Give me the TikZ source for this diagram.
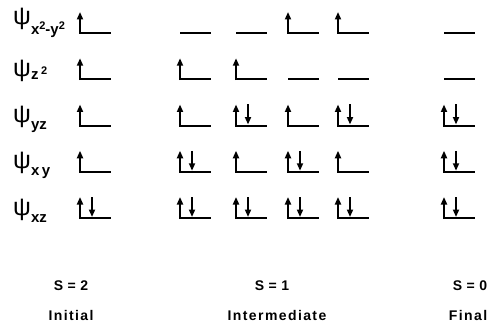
\documentclass[tikz,border=0pt]{standalone}
\usepackage{fontspec}
\setmainfont{Liberation Sans}
\usetikzlibrary{arrows.meta}

\newcommand\psil[2]{{\fontsize{25}{25}\selectfont\mdseries ψ}\raisebox{-#1}{\fontsize{15}{15}\selectfont #2}}
\newcommand\sq{\raisebox{5pt}{\fontsize{11}{11}\selectfont 2}}

\tikzset{
  level/.style={line width=2pt},
  spin/.style={line width=1.8pt, -{Triangle[length=7.5pt,width=6pt]}},
  orb/.style={anchor=base west, inner sep=0pt, font=\bfseries},
  spinst/.style={anchor=base, inner sep=0pt,
    font=\fontsize{14}{16}\selectfont\bfseries\addfontfeature{LetterSpace=4}},
  caption/.style={anchor=base, inner sep=0pt,
    font=\fontsize{14}{16}\selectfont\bfseries\addfontfeature{LetterSpace=10}},
}

\begin{document}
\begin{tikzpicture}[x=1pt,y=1pt]

  \newcommand\Y{46.25}
  \newcommand\lvl[2]{\draw[level] (#1,#2) -- ++(31,0);}
  \newcommand\up[2]{\lvl{#1}{#2}
    \draw[spin] (#1,#2-1) -- ++(0,22);}
  \newcommand\pair[2]{\up{#1}{#2}
    \draw[spin] (#1+12,#2+21) -- (#1+12,#2+1);}

  \useasboundingbox (0,0) rectangle (494,327);

  %% orbital labels
  \node[orb] (xxyy) at (13,294+8) {\psil{10pt}{x\sq-y\sq}};
  \node[orb] (zz) at (13,294-\Y+3) {\psil{3pt}{z\,\sq}};
  \node[orb] (yz) at (13,294-2*\Y+3) {\psil{7pt}{yz}};
  \node[orb] (xy) at (13,294-3*\Y+3) {\psil{7pt}{x\,y}};
  \node[orb] (xz) at (13,294-4*\Y+3) {\psil{7pt}{xz}};

  %% initial
  \up{80}{294}
  \up{80}{294-\Y}
  \up{80}{294-2*\Y}
  \up{80}{294-3*\Y}
  \pair{80}{294-4*\Y}

  %% intermediate
  \lvl{180}{294}
  \up{180}{294-\Y}
  \up{180}{294-2*\Y}
  \pair{180}{294-3*\Y}
  \pair{180}{294-4*\Y}

  \lvl{236}{294}
  \up{236}{294-\Y}
  \pair{236}{294-2*\Y}
  \up{236}{294-3*\Y}
  \pair{236}{294-4*\Y}

  \up{288}{294}
  \lvl{288}{294-\Y}
  \up{288}{294-2*\Y}
  \pair{288}{294-3*\Y}
  \pair{288}{294-4*\Y}

  \up{338}{294}
  \lvl{338}{294-\Y}
  \pair{338}{294-2*\Y}
  \up{338}{294-3*\Y}
  \pair{338}{294-4*\Y}

  %% final
  \lvl{444}{294}
  \lvl{444}{294-\Y}
  \pair{444}{294-2*\Y}
  \pair{444}{294-3*\Y}
  \pair{444}{294-4*\Y}

  %% spin states
  \node[spinst] (s2) at (71,36.5) {S = 2};
  \node[caption] (initial) at (71,7) {Initial};
  \node[spinst] (s1) at (272,36.5) {S = 1};
  \node[caption] (intermediate) at (277,7) {Intermediate};
  \node[spinst] (s0) at (470,36.5) {S = 0};
  \node[caption] (final) at (468,7) {Final};

\end{tikzpicture}
\end{document}
